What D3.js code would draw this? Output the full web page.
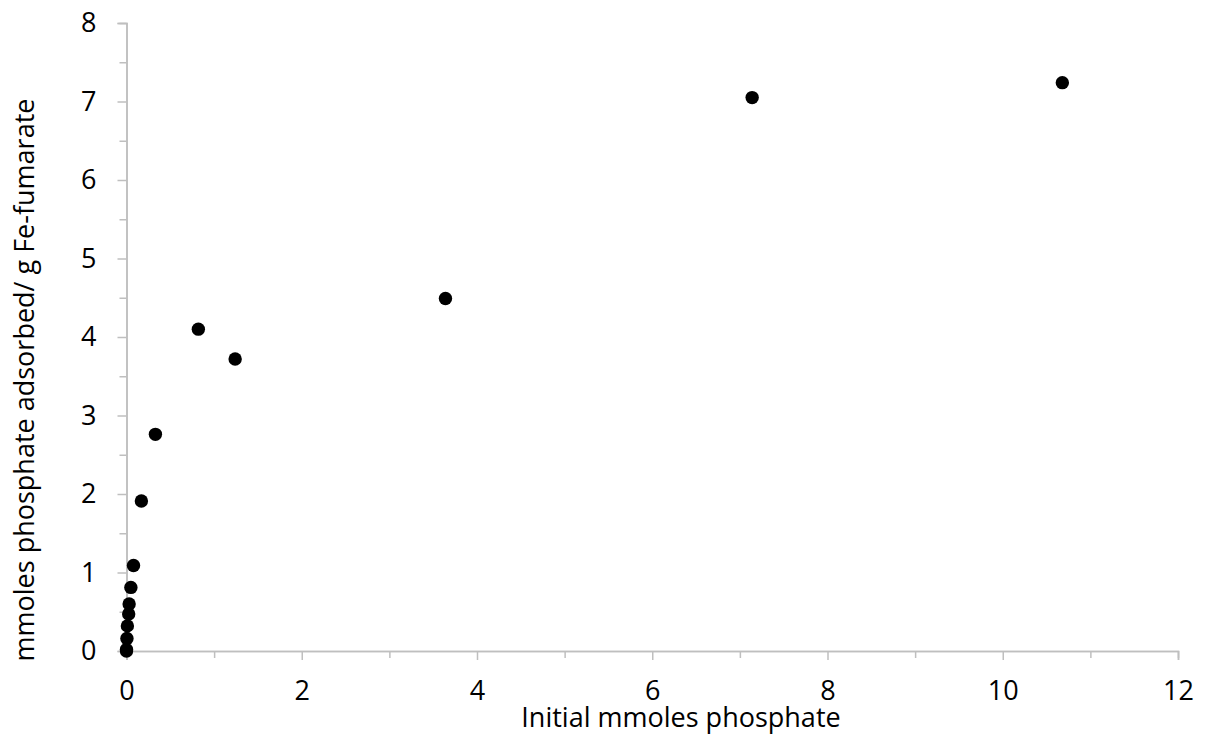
<!DOCTYPE html>
<html><head><meta charset="utf-8">
<script src="https://cdn.jsdelivr.net/npm/d3@7"></script>
<style>body{margin:0;background:#fff;}svg{display:block;font-family:"Open Sans",sans-serif;}</style>
</head><body>
<script>
const xValues = [10.68, 7.14, 3.64, 0.82, 1.24, 0.33, 0.17, 0.08, 0.05, 0.03, 0.025, 0.01, 0.005, 0.0, 0.0];
const yValues = [7.24, 7.05, 4.49, 4.10, 3.72, 2.76, 1.91, 1.09, 0.81, 0.60, 0.47, 0.32, 0.16, 0.02, 0.0];
const xTicks = [0, 2, 4, 6, 8, 10, 12];
const xMinorTicks = [1, 3, 5, 7, 9, 11];
const yTicks = [0, 1, 2, 3, 4, 5, 6, 7, 8];
const yMinorTicks = [0.5, 1.5, 2.5, 3.5, 4.5, 5.5, 6.5, 7.5];
const xTitle = "Initial mmoles phosphate";
const yTitle = "mmoles phosphate adsorbed/ g Fe-fumarate";

const W = 1212, H = 736;
const svg = d3.select("body").append("svg").attr("width", W).attr("height", H);
const x = d3.scaleLinear().domain([0, 12]).range([126.5, 1178]);
const y = d3.scaleLinear().domain([0, 8]).range([651, 23]);
const axisColor = "#bfbfbf";
const fs = 27;

// minor ticks
const gx = svg.append("g").attr("transform", `translate(0,${y(0)})`)
  .call(d3.axisBottom(x).tickValues(xMinorTicks).tickSize(7).tickFormat(""));
const gy = svg.append("g").attr("transform", `translate(${x(0)},0)`)
  .call(d3.axisLeft(y).tickValues(yMinorTicks).tickSize(7).tickFormat(""));
// major ticks
const gx2 = svg.append("g").attr("transform", `translate(0,${y(0)})`)
  .call(d3.axisBottom(x).tickValues(xTicks).tickSize(9).tickPadding(21).tickFormat(d3.format("d")));
const gy2 = svg.append("g").attr("transform", `translate(${x(0)},0)`)
  .call(d3.axisLeft(y).tickValues(yTicks).tickSize(9).tickPadding(21).tickFormat(d3.format("d")));

[gx, gy, gx2, gy2].forEach(g => {
  g.selectAll("path.domain").attr("stroke", axisColor).attr("stroke-width", 1.5);
  g.selectAll(".tick line").attr("stroke", axisColor).attr("stroke-width", 1.5);
  g.selectAll("text").attr("fill", "#000").style("font-size", fs + "px").style("font-family", '"Open Sans",sans-serif');
});

// points
svg.append("g").selectAll("circle").data(xValues.map((v, i) => [v, yValues[i]]))
  .join("circle")
  .attr("cx", d => x(d[0])).attr("cy", d => y(d[1])).attr("r", 6.7).attr("fill", "#000");

// titles
svg.append("text").attr("x", 681).attr("y", 727).attr("text-anchor", "middle")
  .style("font-size", fs + "px").text(xTitle);
svg.append("text").attr("transform", `translate(34,380) rotate(-90)`).attr("text-anchor", "middle")
  .style("font-size", fs + "px").text(yTitle);
</script>
</body></html>
